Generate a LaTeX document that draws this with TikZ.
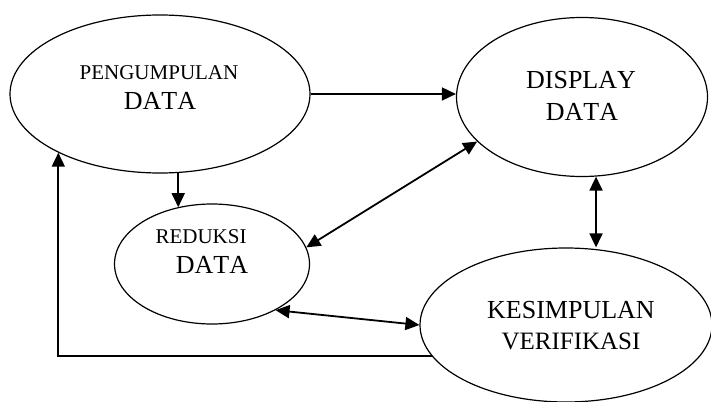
\documentclass[tikz,border=0pt]{standalone}
\usepackage{fontspec}
\setmainfont{Liberation Serif}[Kerning=Off]
\usetikzlibrary{arrows.meta,shapes}
\tikzstyle{proses}=[ellipse,draw,line width=1.2pt,inner sep=0pt]
\tikzstyle{teks}=[anchor=base,inner sep=0pt]
\tikzstyle{panah}=[draw,line width=1.8pt,-{Triangle[length=14pt,width=13pt]}]
\tikzstyle{duapanah}=[draw,line width=1.8pt,{Triangle[length=14pt,width=13pt]}-{Triangle[length=14pt,width=13pt]}]

\begin{document}
\begin{tikzpicture}[x=1pt,y=-1pt]
    \useasboundingbox (0,0) rectangle (711,401);
    % First we draw the ellipses
    \foreach \pos/\name/\w/\h in {{(160,94)/pengumpulan/300/158}, {(582,97)/display/251/159}, {(212,264)/reduksi/195/120}, {(566,325)/kesimpulan/292/154}}
        \node[proses,minimum width=\w pt,minimum height=\h pt] (\name) at \pos {};

    % Then the texts inside them
    \foreach \pos/\name/\size/\isi in {{(159,80)/tpeng/21/PENGUMPULAN}, {(160,110)/tpengdata/26/DATA}, {(581,89)/tdisp/26/DISPLAY}, {(582,121)/tdispdata/26/DATA}, {(201,243)/tred/21/REDUKSI}, {(212,273)/treddata/26/DATA}, {(571,318)/tkes/26/KESIMPULAN}, {(571,349)/tver/25/VERIFIKASI}}
        \node[teks,font=\fontsize{\size}{\size}\selectfont] (\name) at \pos {\isi};

    % Connect ellipses with arrows
    \path[panah] (pengumpulan.east) -- (pengumpulan.east -| display.west);
    \path[panah] (pengumpulan.283) -- (pengumpulan.283 |- reduksi.121);
    \path[duapanah] (reduksi.10) -- (display.203);
    \path[duapanah] (display.280) -- (display.280 |- kesimpulan.north);
    \path[duapanah] (reduksi.324) -- (kesimpulan.west);
    \path[panah] (kesimpulan.193) -| (pengumpulan.210);

\end{tikzpicture}
\end{document}
